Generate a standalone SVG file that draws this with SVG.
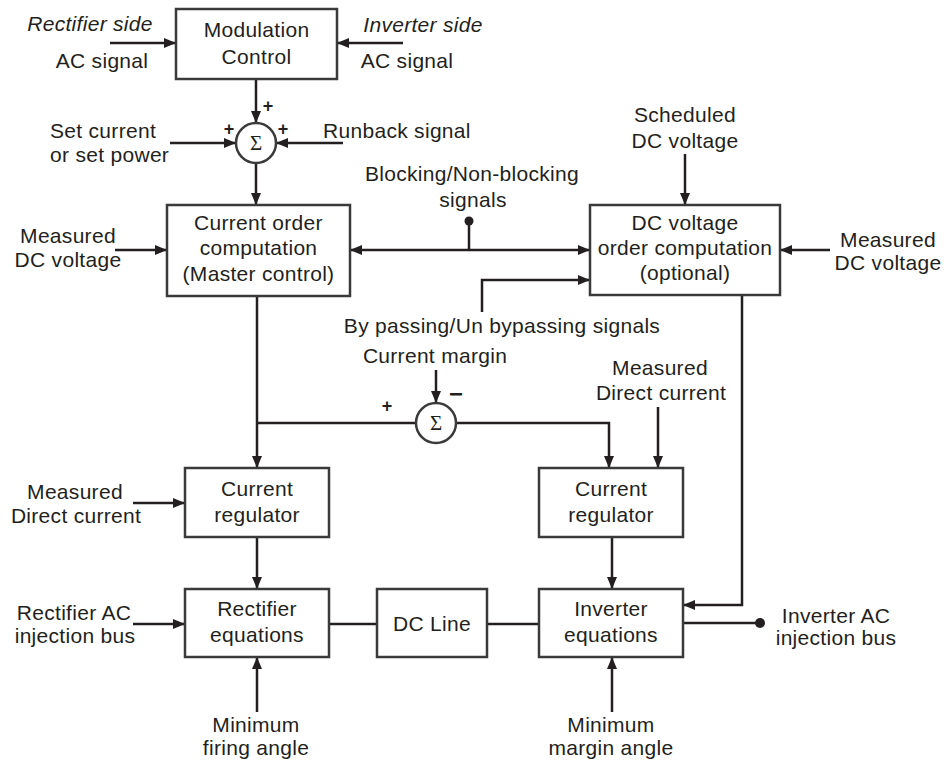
<svg xmlns="http://www.w3.org/2000/svg" width="944" height="761" viewBox="0 0 944 761">
<style>
text{font-family:"Liberation Sans",Arial,sans-serif;font-size:21px;letter-spacing:0.3px;fill:#231f20;text-anchor:middle}
.l{text-anchor:start}
.it{font-style:italic}
.sg{font-size:18px;font-weight:bold;letter-spacing:0}
.sig{font-family:"Liberation Serif","Times New Roman",serif;font-size:21px;letter-spacing:0}
.box{fill:#fff;stroke:#3a3a3a;stroke-width:2.5}
.c{fill:none;stroke:#231f20;stroke-width:2.5}
.ar{marker-end:url(#ah)}
.dot{fill:#231f20}
</style>
<defs>
<marker id="ah" viewBox="0 0 12 10" refX="12" refY="5" markerWidth="12" markerHeight="10" markerUnits="userSpaceOnUse" orient="auto-start-reverse">
<path d="M0,0 L12,5 L0,10 z" fill="#231f20"/>
</marker>
</defs>
<rect width="944" height="761" fill="#fff"/>

<g id="connectors">
<line class="c ar" x1="110" y1="43" x2="176" y2="43"/>
<line class="c ar" x1="403" y1="43" x2="337" y2="43"/>
<line class="c ar" x1="256" y1="79" x2="256" y2="123"/>
<line class="c ar" x1="170" y1="143" x2="236" y2="143"/>
<line class="c ar" x1="343" y1="143" x2="276" y2="143"/>
<line class="c ar" x1="256" y1="163" x2="256" y2="205"/>
<line class="c ar" x1="115" y1="250" x2="167" y2="250"/>
<line class="c ar" x1="350" y1="250" x2="590" y2="250" marker-start="url(#ah)"/>
<line class="c" x1="469" y1="250" x2="469" y2="221"/>
<circle class="dot" cx="469" cy="221" r="4.5"/>
<line class="c ar" x1="685" y1="154" x2="685" y2="205"/>
<line class="c ar" x1="830" y1="250" x2="780" y2="250"/>
<path class="c ar" d="M482,312 V280 H590"/>
<line class="c ar" x1="257" y1="296" x2="257" y2="468"/>
<line class="c" x1="257" y1="423" x2="416" y2="423"/>
<line class="c ar" x1="436" y1="370" x2="436" y2="403"/>
<path class="c ar" d="M456,423 H609 V468"/>
<line class="c ar" x1="658" y1="407" x2="658" y2="468"/>
<line class="c ar" x1="133" y1="503" x2="185" y2="503"/>
<line class="c ar" x1="257" y1="537" x2="257" y2="589"/>
<line class="c ar" x1="612" y1="537" x2="612" y2="589"/>
<line class="c ar" x1="133" y1="624" x2="185" y2="624"/>
<line class="c" x1="329" y1="624" x2="377" y2="624"/>
<line class="c" x1="487" y1="624" x2="539" y2="624"/>
<path class="c ar" d="M742,295 V605 H683"/>
<line class="c" x1="683" y1="623" x2="760" y2="623"/>
<circle class="dot" cx="760" cy="623" r="5"/>
<line class="c ar" x1="257" y1="712" x2="257" y2="657"/>
<line class="c ar" x1="612" y1="712" x2="612" y2="657"/>
</g>

<g id="labels">
<text class="it" x="90" y="31">Rectifier side</text>
<text x="102" y="68">AC signal</text>
<text class="it" x="423" y="32">Inverter side</text>
<text x="407" y="68">AC signal</text>
<text class="l" x="50" y="138">Set current</text>
<text class="l" x="50" y="162">or set power</text>
<text class="l" x="323" y="138">Runback signal</text>
<text class="sg" x="268" y="112">+</text>
<text class="sg" x="229" y="135">+</text>
<text class="sg" x="283" y="135">+</text>
<text x="68" y="243">Measured</text>
<text x="68" y="267">DC voltage</text>
<text x="472" y="181">Blocking/Non-blocking</text>
<text x="473" y="207">signals</text>
<text x="685" y="122">Scheduled</text>
<text x="685" y="148">DC voltage</text>
<text x="888" y="247">Measured</text>
<text x="888" y="270">DC voltage</text>
<text x="502" y="333">By passing/Un bypassing signals</text>
<text x="435" y="363">Current margin</text>
<text class="sg" x="387" y="412">+</text>
<text class="sg" x="456" y="402" style="font-size:24px">−</text>
<text x="660" y="375">Measured</text>
<text x="661" y="400">Direct current</text>
<text x="75" y="499">Measured</text>
<text x="76" y="523">Direct current</text>
<text x="74" y="620">Rectifier AC</text>
<text x="75" y="643">injection bus</text>
<text x="836" y="623">Inverter AC</text>
<text x="836" y="645">injection bus</text>
<text x="256" y="732">Minimum</text>
<text x="256" y="755">firing angle</text>
<text x="611" y="732">Minimum</text>
<text x="611" y="755">margin angle</text>
</g>

<g id="modulation-control">
<rect class="box" x="176" y="9" width="161" height="70"/>
<text x="256.5" y="37">Modulation</text>
<text x="256.5" y="64">Control</text>
</g>
<g id="sum1">
<circle class="box" cx="256" cy="143" r="20"/>
<text class="sig" x="256" y="150">Σ</text>
</g>
<g id="current-order">
<rect class="box" x="167" y="205" width="183" height="91"/>
<text x="258.5" y="230">Current order</text>
<text x="258.5" y="255">computation</text>
<text x="258.5" y="281">(Master control)</text>
</g>
<g id="dc-voltage-order">
<rect class="box" x="590" y="205" width="190" height="90"/>
<text x="685" y="230">DC voltage</text>
<text x="685" y="255">order computation</text>
<text x="685" y="280">(optional)</text>
</g>
<g id="sum2">
<circle class="box" cx="436" cy="423" r="20"/>
<text class="sig" x="436" y="430">Σ</text>
</g>
<g id="current-regulator-rect">
<rect class="box" x="185" y="468" width="144" height="69"/>
<text x="257" y="496">Current</text>
<text x="257" y="522">regulator</text>
</g>
<g id="current-regulator-inv">
<rect class="box" x="539" y="468" width="144" height="69"/>
<text x="611" y="496">Current</text>
<text x="611" y="522">regulator</text>
</g>
<g id="rectifier-equations">
<rect class="box" x="185" y="589" width="144" height="68"/>
<text x="257" y="616">Rectifier</text>
<text x="257" y="642">equations</text>
</g>
<g id="dc-line">
<rect class="box" x="377" y="589" width="110" height="68"/>
<text x="432" y="631">DC Line</text>
</g>
<g id="inverter-equations">
<rect class="box" x="539" y="589" width="144" height="68"/>
<text x="611" y="616">Inverter</text>
<text x="611" y="642">equations</text>
</g>
</svg>
